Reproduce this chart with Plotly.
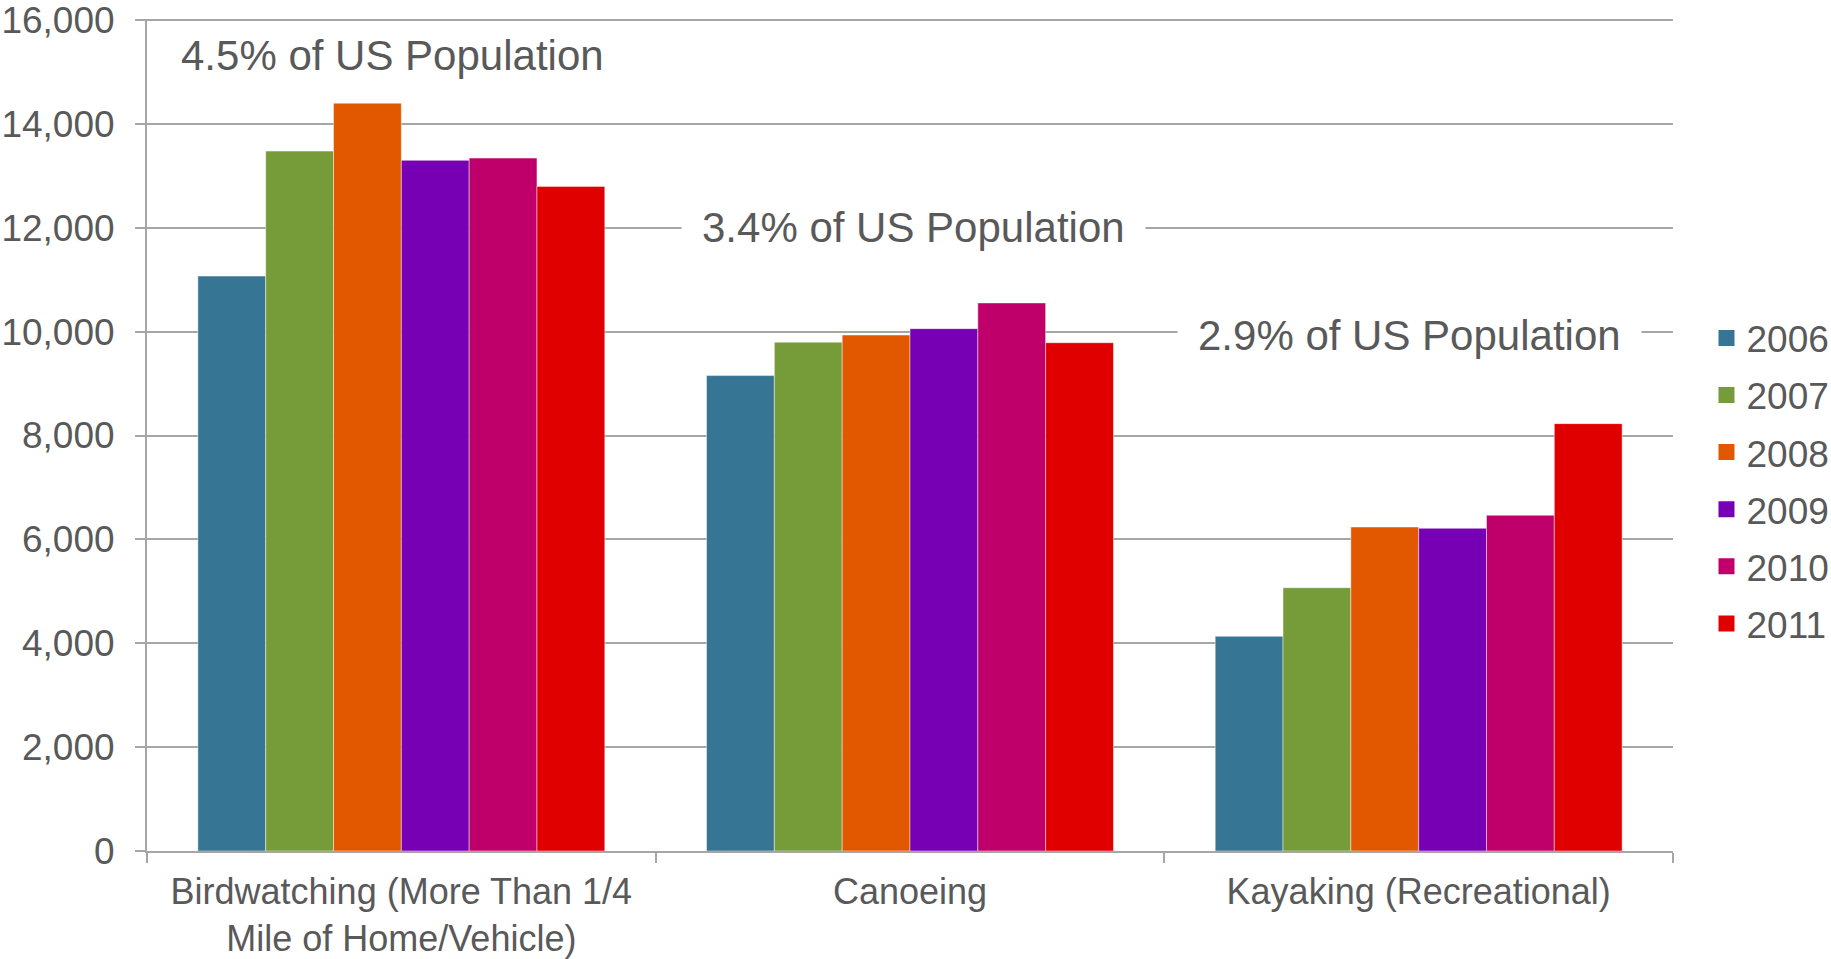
import plotly.graph_objects as go

# Participants (thousands) by activity and year
activities = [
    "Birdwatching (More Than 1/4<br>Mile of Home/Vehicle)",
    "Canoeing",
    "Kayaking (Recreational)",
]
years = ["2006", "2007", "2008", "2009", "2010", "2011"]
participants_2006 = [11070, 9154, 4134]
participants_2007 = [13476, 9797, 5070]
participants_2008 = [14399, 9935, 6238]
participants_2009 = [13298, 10058, 6213]
participants_2010 = [13342, 10553, 6465]
participants_2011 = [12797, 9787, 8229]
series = [participants_2006, participants_2007, participants_2008,
          participants_2009, participants_2010, participants_2011]
year_colors = ["#367593", "#769C3A", "#E25800", "#7700B4", "#C0006A", "#E10000"]

y_ticks = [0, 2000, 4000, 6000, 8000, 10000, 12000, 14000, 16000]

population_notes = ["4.5% of US Population", "3.4% of US Population", "2.9% of US Population"]

TEXT = "#595959"
GRID = "#A6A6A6"
FONT = "Liberation Sans, Arial, sans-serif"

fig = go.Figure()
for year, values, color in zip(years, series, year_colors):
    fig.add_trace(go.Bar(
        x=activities, y=values, name=year, legendgroup=year, showlegend=False,
        marker=dict(color=color, line=dict(color="rgba(255,255,255,0.45)", width=1)),
    ))
    # legend entry with a larger square swatch
    fig.add_trace(go.Scatter(
        x=[None], y=[None], mode="markers", name=year, legendgroup=year,
        marker=dict(symbol="square", size=16, color=color),
    ))

fig.update_layout(
    width=1831, height=959,
    margin=dict(l=147, r=158, t=19, b=108, autoexpand=False),
    paper_bgcolor="white", plot_bgcolor="white",
    barmode="group", bargap=0.2, bargroupgap=0,
    font=dict(family=FONT, color=TEXT, size=37),
    legend=dict(
        xref="container", yref="container", x=0.932, y=0.6795,
        xanchor="left", yanchor="top",
        font=dict(size=37, color=TEXT),
        traceorder="grouped", tracegroupgap=6,
        itemwidth=30, itemsizing="trace", bgcolor="rgba(0,0,0,0)",
    ),
    showlegend=True,
)

fig.update_xaxes(
    type="category", tickson="boundaries", automargin=False,
    showline=True, linecolor=GRID, linewidth=2,
    ticks="outside", ticklen=10, tickwidth=2, tickcolor=GRID,
    showgrid=False, tickfont=dict(size=36, color=TEXT), ticklabelstandoff=8,
)
fig.update_yaxes(
    range=[0, 16020], tickmode="array", tickvals=y_ticks,
    tickformat=",d", automargin=False, ticklabeloverflow="allow",
    showline=True, linecolor=GRID, linewidth=2,
    ticks="outside", ticklen=10, tickwidth=2, tickcolor=GRID,
    showgrid=True, gridcolor=GRID, gridwidth=2, zeroline=False,
    tickfont=dict(size=37, color=TEXT), ticklabelstandoff=13,
)

# Share-of-population notes for each activity
fig.add_annotation(text=population_notes[0], xref="paper", yref="y",
                   x=0.1606, y=15310, xanchor="center", yanchor="middle", showarrow=False,
                   font=dict(size=42, color=TEXT))
fig.add_annotation(text=population_notes[1], xref="paper", yref="y",
                   x=0.502, y=12000, xanchor="center", yanchor="middle", showarrow=False,
                   bgcolor="white", borderpad=20, font=dict(size=42, color=TEXT))
fig.add_annotation(text=population_notes[2], xref="paper", yref="y",
                   x=0.827, y=10000, yshift=-4, xanchor="center", yanchor="middle",
                   showarrow=False, bgcolor="white", borderpad=20,
                   font=dict(size=42, color=TEXT))

fig.write_html("out.html")
